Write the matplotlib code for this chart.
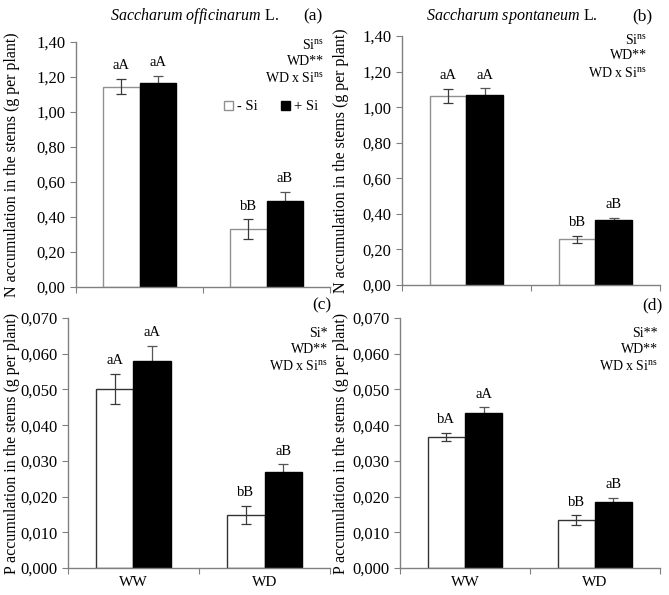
import numpy as np
import matplotlib
matplotlib.use("Agg")
import matplotlib.pyplot as plt
from matplotlib.ticker import FuncFormatter, FixedLocator

plt.rcParams['font.family'] = ['Liberation Serif', 'DejaVu Serif']
plt.rcParams['mathtext.fontset'] = 'custom'
plt.rcParams['mathtext.rm'] = 'Liberation Serif'
plt.rcParams['mathtext.it'] = 'Liberation Serif:italic'

# data
groups = ['WW', 'WD']
series = ['- Si', '+ Si']

n_off = [1.145, 0.33]
n_off_si = [1.168, 0.493]
n_off_err = [0.043, 0.057]
n_off_si_err = [0.040, 0.049]
n_off_lbl = ['aA', 'bB']
n_off_si_lbl = ['aA', 'aB']

n_spo = [1.064, 0.257]
n_spo_si = [1.067, 0.366]
n_spo_err = [0.040, 0.020]
n_spo_si_err = [0.038, 0.010]
n_spo_lbl = ['aA', 'bB']
n_spo_si_lbl = ['aA', 'aB']

p_off = [0.0501, 0.0148]
p_off_si = [0.0580, 0.0268]
p_off_err = [0.0042, 0.0026]
p_off_si_err = [0.0043, 0.0022]
p_off_lbl = ['aA', 'bB']
p_off_si_lbl = ['aA', 'aB']

p_spo = [0.0367, 0.0134]
p_spo_si = [0.0434, 0.0185]
p_spo_err = [0.0011, 0.0013]
p_spo_si_err = [0.0016, 0.0011]
p_spo_lbl = ['bA', 'bB']
p_spo_si_lbl = ['aA', 'aB']

stats_a = ['Si$^{\\rm ns}$', 'WD**', 'WD x Si$^{\\rm ns}$']
stats_b = ['Si$^{\\rm ns}$', 'WD**', 'WD x Si$^{\\rm ns}$']
stats_c = ['Si*', 'WD**', 'WD x Si$^{\\rm ns}$']
stats_d = ['Si**', 'WD**', 'WD x Si$^{\\rm ns}$']

fig = plt.figure(figsize=(6.69, 5.95), dpi=100)

ax_a = fig.add_axes([0.1136, 0.5176, 0.3797, 0.4118])
ax_b = fig.add_axes([0.6009, 0.5210, 0.3856, 0.4185])
ax_c = fig.add_axes([0.1016, 0.0454, 0.3917, 0.4201])
ax_d = fig.add_axes([0.5979, 0.0454, 0.3886, 0.4201])

x = np.arange(len(groups))
w = 0.285


def panel(ax, v0, v1, e0, e1, l0, l1, ymax, step, fmt, edge, ylabel,
          stats, sx, sy, show_x):
    b0 = ax.bar(x - w / 2, v0, w, color='white', edgecolor=edge, lw=1.0,
                label=series[0], zorder=2)
    b1 = ax.bar(x + w / 2, v1, w, color='black', edgecolor='black', lw=1.0,
                label=series[1], zorder=2)
    ax.errorbar(x - w / 2, v0, yerr=e0, fmt='none', ecolor='#3a3a3a',
                elinewidth=0.9, capsize=3.5, capthick=0.9, zorder=3)
    ax.errorbar(x + w / 2, v1, yerr=e1, fmt='none', ecolor='#555555',
                elinewidth=0.9, capsize=3.5, capthick=0.9, zorder=1)
    for xi, v, e, t in zip(x - w / 2, v0, e0, l0):
        ax.annotate(t, (xi, v + e), xytext=(0, 9.5), textcoords='offset points',
                    ha='center', va='center', fontsize=10.5)
    for xi, v, e, t in zip(x + w / 2, v1, e1, l1):
        ax.annotate(t, (xi, v + e), xytext=(0, 9.5), textcoords='offset points',
                    ha='center', va='center', fontsize=10.5)
    ax.set_xlim(-0.5, 1.5)
    ax.set_ylim(0, ymax)
    ax.set_yticks(np.arange(0, ymax + step / 2, step))
    ax.yaxis.set_major_formatter(FuncFormatter(lambda v, p: fmt.format(v).replace('.', ',')))
    ax.xaxis.set_major_locator(FixedLocator([-0.5, 0.5, 1.5]))
    ax.xaxis.set_major_formatter(FuncFormatter(lambda v, p: ''))
    if show_x:
        ax.xaxis.set_minor_locator(FixedLocator(x))
        ax.set_xticklabels(groups, minor=True)
    ax.tick_params(axis='x', which='minor', length=0, pad=6, labelsize=11)
    ax.tick_params(axis='both', which='major', direction='out', length=4,
                   width=0.8, color='#808080', labelsize=12)
    for s in ['top', 'right']:
        ax.spines[s].set_visible(False)
    for s in ['left', 'bottom']:
        ax.spines[s].set_color('#808080')
        ax.spines[s].set_linewidth(1.0)
    ax.set_ylabel(ylabel, fontsize=11.5)
    for t, yy in zip(stats, sy):
        ax.text(sx, yy, t, transform=ax.transAxes, ha='right', va='center',
                fontsize=10)
    return b0, b1


nlab = 'N accumulation in the stems (g per plant)'
plab = 'P accumulation in the stems (g per plant)'

b0, b1 = panel(ax_a, n_off, n_off_si, n_off_err, n_off_si_err, n_off_lbl,
               n_off_si_lbl, 1.4, 0.2, '{:.2f}', '#909090', nlab, stats_a,
               0.976, [0.988, 0.920, 0.852], False)
panel(ax_b, n_spo, n_spo_si, n_spo_err, n_spo_si_err, n_spo_lbl,
      n_spo_si_lbl, 1.4, 0.2, '{:.2f}', '#909090', nlab, stats_b,
      0.95, [0.984, 0.920, 0.851], False)
panel(ax_c, p_off, p_off_si, p_off_err, p_off_si_err, p_off_lbl,
      p_off_si_lbl, 0.07, 0.01, '{:.3f}', '#333333', plab, stats_c,
      0.992, [0.94, 0.876, 0.808], True)
panel(ax_d, p_spo, p_spo_si, p_spo_err, p_spo_si_err, p_spo_lbl,
      p_spo_si_lbl, 0.07, 0.01, '{:.3f}', '#333333', plab, stats_d,
      0.992, [0.94, 0.876, 0.808], True)

ax_a.yaxis.set_label_coords(-0.22, 0.5)
ax_b.yaxis.set_label_coords(-0.205, 0.5)
ax_c.yaxis.set_label_coords(-0.183, 0.5)
ax_d.yaxis.set_label_coords(-0.196, 0.5)

ax_a.legend(handles=[b0, b1], loc='center right', bbox_to_anchor=(0.955, 0.735),
            ncol=2, frameon=False, fontsize=10.5, handlelength=0.6,
            handleheight=0.6, handletextpad=0.3, columnspacing=1.6,
            borderaxespad=0, borderpad=0)

fig.text(195 / 669, 1 - 16 / 595, '$\\it{Saccharum\\ officinarum}$ L.',
         ha='center', va='center', fontsize=11.5)
fig.text(512 / 669, 1 - 16 / 595, '$\\it{Saccharum\\ spontaneum}$ L.',
         ha='center', va='center', fontsize=11.5)
fig.text(313 / 669, 1 - 16 / 595, '(a)', ha='center', va='center', fontsize=12.5)
fig.text(642 / 669, 1 - 16 / 595, '(b)', ha='center', va='center', fontsize=12.5)
fig.text(322 / 669, 1 - 305 / 595, '(c)', ha='center', va='center', fontsize=12.5)
fig.text(652 / 669, 1 - 305 / 595, '(d)', ha='center', va='center', fontsize=12.5)

fig.savefig('out.png', dpi=100)
